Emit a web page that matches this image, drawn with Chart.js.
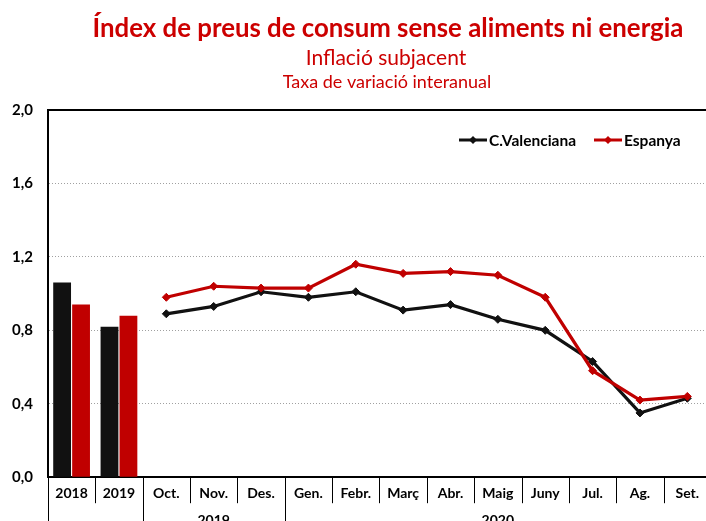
<!DOCTYPE html>
<html>
<head>
<meta charset="utf-8">
<script src="https://cdn.jsdelivr.net/npm/chart.js@4.4.0/dist/chart.umd.min.js"></script>
<style>
html, body { margin: 0; padding: 0; overflow: hidden; background: #fff; }
canvas { display: block; }
</style>
</head>
<body>
<canvas id="grafic" width="716" height="521"></canvas>
<script>
// dades
const categories = ['2018', '2019', 'Oct.', 'Nov.', 'Des.', 'Gen.', 'Febr.', 'Març', 'Abr.', 'Maig', 'Juny', 'Jul.', 'Ag.', 'Set.'];
const anualValenciana = [1.06, 0.82];
const anualEspanya = [0.94, 0.88];
const mensualValenciana = [0.89, 0.93, 1.01, 0.98, 1.01, 0.91, 0.94, 0.86, 0.80, 0.63, 0.35, 0.43];
const mensualEspanya = [0.98, 1.04, 1.03, 1.03, 1.16, 1.11, 1.12, 1.10, 0.98, 0.58, 0.42, 0.44];
const grups = ['', '2019', '2020'];
const grupsInici = [0, 2, 5];
const grupsFi = [1, 4, 13];
const titols = ['Índex de preus de consum sense aliments ni energia', 'Inflació subjacent', 'Taxa de variació interanual'];
const series = ['C.Valenciana', 'Espanya'];

const negre = '#111111'
const roig = '#c00000'
const font = 'Lato'

const buits = new Array(mensualValenciana.length).fill(null)

const titolPlugin = {
  id: 'titols',
  afterDraw(chart) {
    const ctx = chart.ctx
    ctx.save()
    ctx.fillStyle = '#cc0000'
    ctx.textAlign = 'center'
    ctx.textBaseline = 'alphabetic'
    ctx.font = 'bold 25.8px ' + font
    ctx.fillText(titols[0], 388, 37)
    ctx.font = '21px ' + font
    ctx.fillText(titols[1], 386, 65)
    ctx.font = '18px ' + font
    ctx.fillText(titols[2], 387, 88)
    ctx.restore()
  }
}

const marcPlugin = {
  id: 'marc',
  afterDraw(chart) {
    const ctx = chart.ctx
    const area = chart.chartArea
    const x = chart.scales.x
    const w = x.getPixelForValue(1) - x.getPixelForValue(0)
    ctx.save()
    ctx.strokeStyle = '#000'
    ctx.lineWidth = 2
    ctx.beginPath()
    ctx.moveTo(area.left, area.top)
    ctx.lineTo(area.right, area.top)
    ctx.stroke()

    // separadors de la primera fila
    ctx.lineWidth = 1
    for (let i = 0; i <= categories.length; i++) {
      const xs = Math.round(x.getPixelForValue(i) - w / 2) + 0.5
      ctx.beginPath()
      ctx.moveTo(xs, area.bottom)
      ctx.lineTo(xs, area.bottom + 26)
      ctx.stroke()
    }

    // segona fila de l'eix
    ctx.fillStyle = '#000'
    ctx.font = 'bold 14px ' + font
    ctx.textAlign = 'center'
    ctx.textBaseline = 'top'
    for (let i = 0; i < grups.length; i++) {
      const x0 = x.getPixelForValue(grupsInici[i]) - w / 2
      const x1 = x.getPixelForValue(grupsFi[i]) + w / 2
      ctx.beginPath()
      ctx.moveTo(Math.round(x0) + 0.5, area.bottom)
      ctx.lineTo(Math.round(x0) + 0.5, chart.height)
      ctx.stroke()
      ctx.fillText(grups[i], (x0 + x1) / 2, area.bottom + 36)
    }

    // llegenda
    const colors = [negre, roig]
    const posX = [459, 594]
    for (let i = 0; i < series.length; i++) {
      const lx = posX[i]
      const ly = 140
      ctx.strokeStyle = colors[i]
      ctx.fillStyle = colors[i]
      ctx.lineWidth = 3
      ctx.beginPath()
      ctx.moveTo(lx, ly)
      ctx.lineTo(lx + 28, ly)
      ctx.stroke()
      ctx.beginPath()
      ctx.moveTo(lx + 14, ly - 4)
      ctx.lineTo(lx + 18, ly)
      ctx.lineTo(lx + 14, ly + 4)
      ctx.lineTo(lx + 10, ly)
      ctx.closePath()
      ctx.fill()
      ctx.fillStyle = '#000'
      ctx.font = 'bold 15.5px ' + font
      ctx.textAlign = 'left'
      ctx.textBaseline = 'middle'
      ctx.fillText(series[i], lx + 30, ly + 1)
    }
    ctx.restore()
  }
}

const data = {
  labels: categories,
  datasets: [
    {
      type: 'line',
      label: series[0],
      data: [null, null].concat(mensualValenciana),
      borderColor: negre,
      backgroundColor: negre,
      borderWidth: 3.2,
      pointStyle: 'rectRot',
      pointRadius: 4,
      pointBorderWidth: 1,
      order: 1
    },
    {
      type: 'line',
      label: series[1],
      data: [null, null].concat(mensualEspanya),
      borderColor: roig,
      backgroundColor: roig,
      borderWidth: 3.2,
      pointStyle: 'rectRot',
      pointRadius: 4,
      pointBorderWidth: 1,
      order: 0
    },
    {
      type: 'bar',
      label: series[0],
      data: anualValenciana.concat(buits),
      backgroundColor: negre,
      barPercentage: 0.94,
      categoryPercentage: 0.8,
      order: 2
    },
    {
      type: 'bar',
      label: series[1],
      data: anualEspanya.concat(buits),
      backgroundColor: roig,
      barPercentage: 0.94,
      categoryPercentage: 0.8,
      order: 2
    }
  ]
}

const config = {
  type: 'bar',
  data: data,
  options: {
    responsive: false,
    animation: false,
    layout: { padding: { top: 110, left: -3, right: 2, bottom: 11 } },
    plugins: {
      legend: { display: false },
      title: { display: false },
      tooltip: { enabled: false }
    },
    scales: {
      x: {
        grid: { display: false, drawTicks: false },
        border: { color: '#000', width: 2 },
        ticks: {
          color: '#000',
          font: { family: font, size: 14, weight: 'bold' },
          padding: 8,
          autoSkip: false,
          maxRotation: 0
        }
      },
      y: {
        min: 0,
        max: 2,
        grid: { color: '#a0a0a0', drawTicks: false, lineWidth: 1 },
        border: { color: '#000', width: 2, dash: [1, 2] },
        ticks: {
          stepSize: 0.4,
          color: '#000',
          padding: 15,
          font: { family: font, size: 15, weight: 'bold' },
          callback: (v) => v.toFixed(1).replace('.', ',')
        }
      }
    }
  },
  plugins: [titolPlugin, marcPlugin]
}

const grafic = new Chart(document.getElementById('grafic'), config)
</script>
</body>
</html>
